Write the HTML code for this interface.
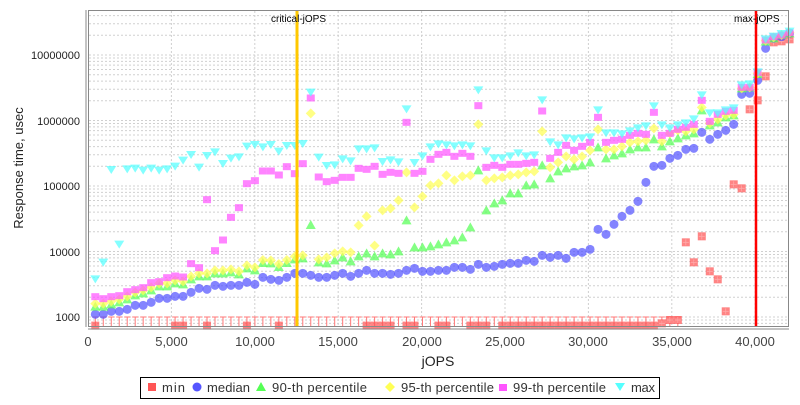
<!DOCTYPE html>
<html><head><meta charset="utf-8"><style>
body{margin:0;background:#fff;width:800px;height:400px;overflow:hidden;font-family:"Liberation Sans","DejaVu Sans",sans-serif}
</style></head><body>
<svg id="s" width="800" height="400" xmlns="http://www.w3.org/2000/svg" font-family="Liberation Sans, DejaVu Sans, sans-serif">
<rect x="0" y="0" width="800" height="400" fill="#fff"/>
<g id="grid"></g>
<g id="data"></g>
<line x1="297" y1="10" x2="297" y2="327" stroke="#ffc800" stroke-width="3"/>
<line x1="756" y1="10" x2="756" y2="327" stroke="#ff0000" stroke-width="2.5"/>
<text x="271" y="22" font-size="10" fill="#000">critical-jOPS</text>
<text x="734" y="22" font-size="10" fill="#000">max-jOPS</text>
<rect x="88.5" y="10.5" width="700" height="316" fill="none" stroke="#888"/>
<line x1="86" y1="10" x2="86" y2="327" stroke="#888"/>
<line x1="88" y1="329" x2="789" y2="329" stroke="#888"/>
<g font-size="11" fill="#222" text-anchor="end">
<text x="80" y="321">1000</text>
<text x="80" y="256">10000</text>
<text x="80" y="190">100000</text>
<text x="80" y="125">1000000</text>
<text x="80" y="59">10000000</text>
</g>
<g font-size="13" fill="#444" text-anchor="middle">
<text x="88" y="346">0</text>
<text x="171.5" y="346">5,000</text>
<text x="255" y="346">10,000</text>
<text x="338" y="346">15,000</text>
<text x="422" y="346">20,000</text>
<text x="505" y="346">25,000</text>
<text x="588" y="346">30,000</text>
<text x="672" y="346">35,000</text>
<text x="755" y="346">40,000</text>
</g>
<text x="438" y="366" font-size="14" fill="#222" text-anchor="middle">jOPS</text>
<text transform="translate(23,168) rotate(-90)" font-size="13" fill="#222" text-anchor="middle">Response time, usec</text>
<rect x="140.5" y="377.5" width="519" height="21" fill="#fff" stroke="#000"/>
<g font-size="13" fill="#333">
<rect x="148" y="383" width="8" height="8" fill="#ff5555"/><text x="162" y="392" textLength="23">min</text>
<circle cx="197" cy="387" r="4.5" fill="#5555ff"/><text x="207" y="392" textLength="43">median</text>
<polygon points="261,382 266,391 256,391" fill="#55ff55"/><text x="272" y="392" textLength="95">90-th percentile</text>
<polygon points="390,382 395,387 390,392 385,387" fill="#ffff55"/><text x="401" y="392" textLength="93">95-th percentile</text>
<rect x="499" y="384" width="8" height="7" fill="#ff55ff"/><text x="513" y="392" textLength="93">99-th percentile</text>
<polygon points="615,383 625,383 620,391" fill="#55ffff"/><text x="631" y="392" textLength="24">max</text>
</g>
</svg>
<script>
const NS="http://www.w3.org/2000/svg";
const g=document.getElementById('grid'),d=document.getElementById('data');
function el(p,t,a){const e=document.createElementNS(NS,t);for(const k in a)e.setAttribute(k,a[k]);p.appendChild(e);return e;}
function Y(v){return 317-65.5*Math.log10(v/1000);}
for(let dec=100;dec<=1e7;dec*=10)for(let m=1;m<10;m++){const y=Y(dec*m);if(y<11||y>326)continue;
el(g,'line',{x1:89,x2:788,y1:y,y2:y,stroke:'#d0d0d0','stroke-dasharray':'2,2','stroke-width':1});}
for(let i=1;i<=8;i++){const x=88+i*83.4;el(g,'line',{x1:x,x2:x,y1:11,y2:326,stroke:'#d0d0d0','stroke-dasharray':'2,2'});}
function X(i){return 95.3+7.98*i;}
function mk(A,B,C){return A.map(z=>80+z/3).concat(B.map(z=>80+z/3)).concat(C.map(z=>10+z/3));}
const med=mk([703,703,694,694,688,676,676,667,655,655,649,649,637,625,628,616,619,616,616,607,613,592,598,601,592,580,580,586,592],
[592,586,580,589,580,571,580,580,583,580,571,565,574,574,571,571,562,562,568,553,562,559,553,550,550,541,544,526,532,526],
[745,727,727,718,658,673,643,619,601,574,517,469,466,445,436,418,415,367,388,373,361,343,253,250,211,115,85,80,70]);
const p90A=[680,680,673,667,658,646,640,631,619,619,610,613,598,589,589,580,580,577,583,565,571,549,550,561,549,538,535,435,547];
const p90=mk(p90A,
[550,541,532,544,529,520,529,520,523,514,421,502,502,499,493,487,481,472,442,271,391,370,361,340,340,316,313,256,295,274],
[475,469,466,457,412,445,436,430,418,412,412,388,409,394,385,376,370,301,346,337,322,316,235,232,192,95,85,75,70]);
const p95A=p90A.map((v,i)=>i==27?100:v-9);
const p95=mk(p95A,
[532,520,514,517,436,409,497,391,385,361,277,382,349,316,310,286,301,289,286,133,301,295,292,286,283,277,274,154,262,247],
[439,448,439,421,358,418,418,409,397,394,391,355,394,370,361,364,358,292,340,328,316,313,235,232,190,92,82,75,68]);
const p99=mk([650,656,650,647,635,629,623,608,605,593,588,591,551,563,359,512,480,412,383,311,302,273,273,285,260,281,251,54,291],
[305,301,292,292,265,268,259,283,277,280,127,280,274,238,223,217,229,220,229,77,262,256,262,253,253,250,247,93,235,217],
[406,421,409,397,322,397,391,388,376,370,373,307,376,370,358,352,343,271,334,313,304,301,232,232,187,90,80,75,68]);
const mx=mk([598,548,270,494,268,266,272,266,272,268,260,242,225,263,228,217,252,236,232,200,195,202,195,215,198,198,192,38,233],
[258,256,238,244,208,208,205,246,241,247,88,249,229,202,193,196,199,196,199,31,214,235,235,229,220,229,226,61,187,196],
[385,388,385,382,301,370,370,373,364,355,349,289,346,355,346,340,328,256,310,310,301,295,226,223,187,88,80,72,65]);
const A=0.72;
const bottomSq=[0,10,11,14,19,23,34,35,36,37,39,40,43,44,47,48,49];for(let i=51;i<=70;i++)bottomSq.push(i);
for(let i=0;i<=73;i++){const x=X(i);el(d,'line',{x1:x,x2:x,y1:317,y2:327,stroke:'#ff7777'});el(d,'line',{x1:x-3,x2:x+3,y1:317,y2:317,stroke:'#ff7777'});}
bottomSq.forEach(i=>el(d,'rect',{x:X(i)-4,y:321.6,width:8,height:8,fill:'#ff5555','fill-opacity':A}));
const minUp={71:940,72:930,73:930,74:697,75:757,76:679,77:784,78:808,79:904,80:523,81:535,82:298,83:271,84:199,85:97,86:94,87:88};
for(const k in minUp){const x=X(+k),y=10+minUp[k]/3;el(d,'rect',{x:x-4,y:y-4,width:8,height:8,fill:'#ff5555','fill-opacity':A});
el(d,'line',{x1:x,x2:x,y1:y-3,y2:y+3,stroke:'#ffaaaa','stroke-width':0.8});el(d,'line',{x1:x-3,x2:x+3,y1:y,y2:y,stroke:'#ffaaaa','stroke-width':0.8});}
med.forEach((y,i)=>el(d,'circle',{cx:X(i),cy:y,r:4.5,fill:'#5555ff','fill-opacity':A}));
p90.forEach((y,i)=>{const x=X(i);el(d,'polygon',{points:`${x},${y-5} ${x+5},${y+4} ${x-5},${y+4}`,fill:'#55ff55','fill-opacity':A});});
p95.forEach((y,i)=>{const x=X(i);el(d,'polygon',{points:`${x},${y-5} ${x+5},${y} ${x},${y+5} ${x-5},${y}`,fill:'#ffff55','fill-opacity':A});});
p99.forEach((y,i)=>el(d,'rect',{x:X(i)-4,y:y-3.5,width:8,height:7,fill:'#ff55ff','fill-opacity':A}));
mx.forEach((y,i)=>{const x=X(i);el(d,'polygon',{points:`${x-5},${y-4} ${x+5},${y-4} ${x},${y+4}`,fill:'#55ffff','fill-opacity':A});});
</script>
</body></html>
